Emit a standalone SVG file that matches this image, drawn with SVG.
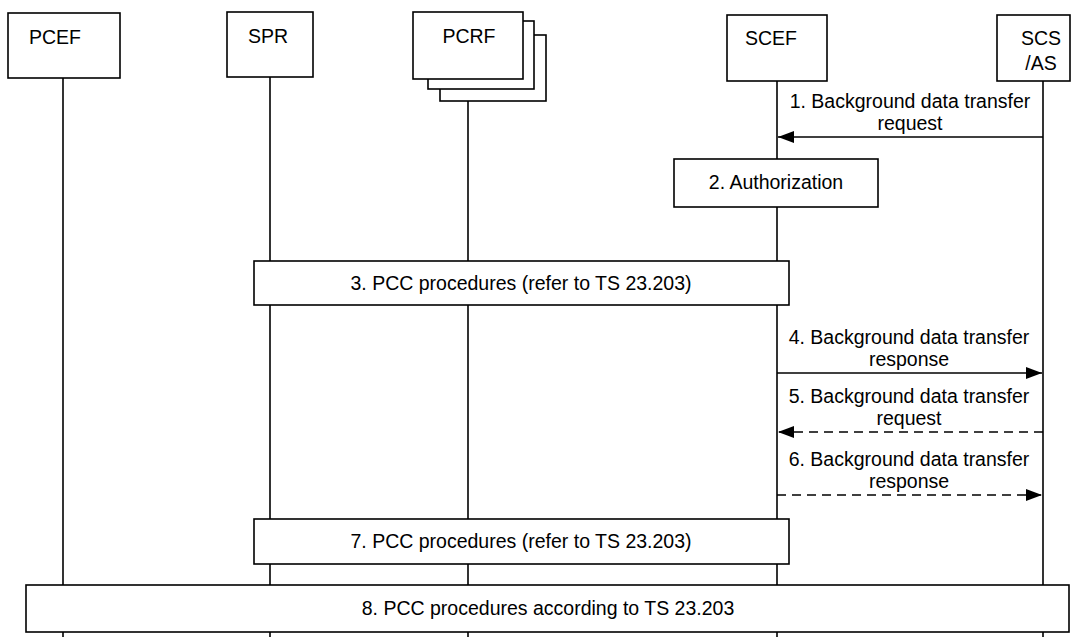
<svg xmlns="http://www.w3.org/2000/svg" width="1072" height="637" viewBox="0 0 1072 637">
<style>
.box{fill:#fff;stroke:#000;stroke-width:1.6}
.life{stroke:#000;stroke-width:1.6;fill:none}
.msg{stroke:#000;stroke-width:1.6;fill:none}
.dash{stroke-dasharray:9 6}
text{font-family:"Liberation Sans",Arial,sans-serif;font-size:19.5px;fill:#000}
.c{text-anchor:middle}
</style>
<defs>
<marker id="ah" viewBox="0 0 16 12" refX="16" refY="6" markerWidth="16" markerHeight="12" markerUnits="userSpaceOnUse" orient="auto">
<path d="M0,0 L16,6 L0,12 Z" fill="#000"/>
</marker>
</defs>
<rect width="1072" height="637" fill="#fff"/>
<g id="lifelines">
<line class="life" x1="63" y1="78" x2="63" y2="637"/>
<line class="life" x1="270" y1="77" x2="270" y2="637"/>
<line class="life" x1="468" y1="101" x2="468" y2="637"/>
<line class="life" x1="777" y1="81" x2="777" y2="637"/>
<line class="life" x1="1043" y1="81" x2="1043" y2="637"/>
</g>
<g id="PCEF">
<rect class="box" x="8" y="13" width="112" height="65"/>
<text x="29" y="44">PCEF</text>
</g>
<g id="SPR">
<rect class="box" x="227" y="12" width="86" height="65"/>
<text class="c" x="268" y="43">SPR</text>
</g>
<g id="PCRF">
<rect class="box" x="440" y="35" width="106" height="66"/>
<rect class="box" x="428" y="21" width="106" height="68"/>
<rect class="box" x="413" y="12" width="110" height="67"/>
<text class="c" x="469" y="43">PCRF</text>
</g>
<g id="SCEF">
<rect class="box" x="727" y="15" width="100" height="66"/>
<text x="745" y="45">SCEF</text>
</g>
<g id="SCSAS">
<rect class="box" x="997" y="15" width="73" height="66"/>
<text class="c" x="1041" y="45">SCS</text>
<text class="c" x="1041" y="70">/AS</text>
</g>
<g id="step2">
<rect class="box" x="674" y="159" width="204" height="48"/>
<text class="c" x="776" y="189">2. Authorization</text>
</g>
<g id="step3">
<rect class="box" x="254" y="261" width="535" height="44"/>
<text class="c" x="521" y="290">3. PCC procedures (refer to TS 23.203)</text>
</g>
<g id="step7">
<rect class="box" x="254" y="519" width="535" height="45"/>
<text class="c" x="521" y="548">7. PCC procedures (refer to TS 23.203)</text>
</g>
<g id="step8">
<rect class="box" x="26" y="585" width="1043" height="47"/>
<text class="c" x="548" y="615">8. PCC procedures according to TS 23.203</text>
</g>
<g id="connectors">
<line class="msg" x1="1043" y1="137" x2="778" y2="137" marker-end="url(#ah)"/>
<line class="msg" x1="777" y1="373" x2="1042" y2="373" marker-end="url(#ah)"/>
<line class="msg dash" x1="1043" y1="432" x2="778" y2="432" marker-end="url(#ah)"/>
<line class="msg dash" x1="777" y1="495" x2="1042" y2="495" marker-end="url(#ah)"/>
</g>
<g id="labels">
<text class="c" x="910" y="108">1. Background data transfer</text>
<text class="c" x="910" y="130">request</text>
<text class="c" x="909" y="344">4. Background data transfer</text>
<text class="c" x="909" y="366">response</text>
<text class="c" x="909" y="403">5. Background data transfer</text>
<text class="c" x="909" y="425">request</text>
<text class="c" x="909" y="466">6. Background data transfer</text>
<text class="c" x="909" y="488">response</text>
</g>
</svg>
